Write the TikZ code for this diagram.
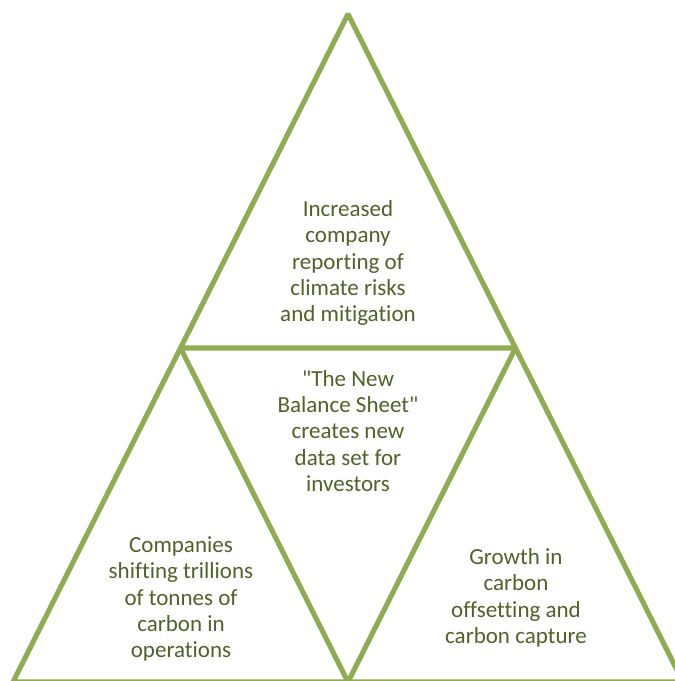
\documentclass[tikz,border=0pt]{standalone}
\usepackage{fontspec}
\setmainfont{Carlito}[Ligatures={TeXOff,CommonOff}]
\usepackage{xcolor}
\definecolor{leafgreen}{HTML}{8FAC52}
\definecolor{olivetext}{HTML}{4F6228}
\usetikzlibrary{calc}

\begin{document}
\begin{tikzpicture}[
  x=0.02cm, y=-0.02cm,
  edge/.style={draw=leafgreen, line width=2.9pt, line join=bevel},
  label/.style={align=center, text=olivetext, inner sep=0pt,
    font=\fontsize{13.1}{15}\selectfont}
]
  \useasboundingbox (0,0) rectangle (675,681);

  % Triangle corners
  \coordinate (apex) at (348,14);
  \coordinate (baseL) at (13,682);
  \coordinate (baseR) at (683,682);
  \coordinate (midL) at ($(apex)!0.5!(baseL)$);
  \coordinate (midR) at ($(apex)!0.5!(baseR)$);
  \coordinate (baseM) at ($(baseL)!0.5!(baseR)$);

  % Outer and inner triangles
  \draw[edge] (apex) -- (baseL) -- (baseR) -- cycle;
  \draw[edge] (midL) -- (midR) -- (baseM) -- cycle;

  % Labels
  \node[label] (top) at (348,263) {Increased\\company\\reporting of\\climate risks\\and mitigation};
  \node[label] (centre) at (348,431) {"The New\\Balance Sheet"\\creates new\\data set for\\investors};
  \node[label] (left) at (181,599) {Companies\\shifting trillions\\of tonnes of\\carbon in\\operations};
  \node[label] (right) at (516,598) {Growth in\\carbon\\offsetting and\\carbon capture};
\end{tikzpicture}
\end{document}
